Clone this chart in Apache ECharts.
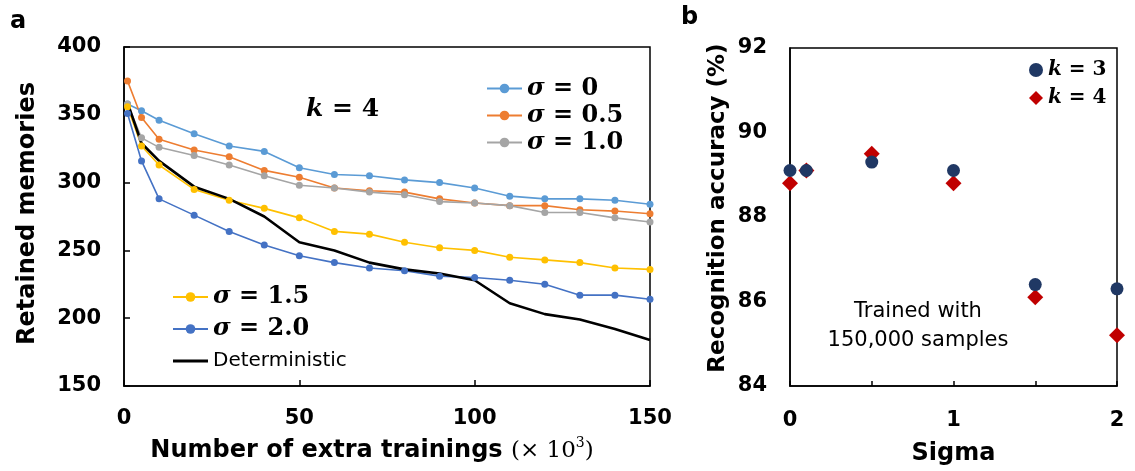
<!DOCTYPE html>
<html>
<head>
<meta charset="utf-8">
<script src="https://cdn.jsdelivr.net/npm/echarts@6/dist/echarts.min.js"></script>
<style>
html,body{margin:0;padding:0;background:#fff;}
#chart{width:1135px;height:471px;}
</style>
</head>
<body>
<div id="chart"></div>
<script>
// ---- Panel a data ----
const trainings = [1, 5, 10, 20, 30, 40, 50, 60, 70, 80, 90, 100, 110, 120, 130, 140, 150];
const sigma0   = [358, 353, 346, 336, 327, 323, 311, 306, 305, 302, 300, 296, 290, 288, 288, 287, 284];
const sigma05  = [375, 348, 332, 324, 319, 309, 304, 296, 294, 293, 288, 285, 283, 283, 280, 279, 277];
const sigma10  = [358, 333, 326, 320, 313, 305, 298, 296, 293, 291, 286, 285, 283, 278, 278, 274, 271];
const sigma15  = [356, 327, 313, 295, 287, 281, 274, 264, 262, 256, 252, 250, 245, 243, 241, 237, 236];
const sigma20  = [351, 316, 288, 276, 264, 254, 246, 241, 237, 235, 231, 230, 228, 225, 217, 217, 214];
const determ   = [359, 329, 316, 297, 288, 275, 256, 250, 241, 236, 233, 228, 211, 203, 199, 192, 184];
const seriesNamesA = ['σ = 0', 'σ = 0.5', 'σ = 1.0', 'σ = 1.5', 'σ = 2.0', 'Deterministic'];

// ---- Panel b data ----
const sigmaVals = [0, 0.1, 0.5, 1, 1.5, 2];
const accK3 = [89.1, 89.1, 89.3, 89.1, 86.4, 86.3];
const accK4 = [88.8, 89.1, 89.5, 88.8, 86.1, 85.2];
const seriesNamesB = ['k = 3', 'k = 4'];

const pair = (xs, ys) => xs.map((x, i) => [x, ys[i]]);

const SANS = 'DejaVu Sans';
const SERIF = 'DejaVu Serif';

function lineSeries(name, data, color, width, symbol) {
  return {
    name: name, type: 'line', xAxisIndex: 0, yAxisIndex: 0,
    data: pair(trainings, data),
    symbol: symbol ? 'circle' : 'none', symbolSize: 7, showSymbol: !!symbol,
    itemStyle: { color: color },
    lineStyle: { color: color, width: width },
    animation: false
  };
}

const sigmaRich = {
  s: { fontFamily: SERIF, fontStyle: 'italic', fontWeight: 'bold', fontSize: 24, color: '#000' },
  e: { fontFamily: SERIF, fontWeight: 'bold', fontSize: 24, color: '#000' },
  d: { fontFamily: SANS, fontSize: 20, color: '#000' }
};
function legendFmt(name) {
  if (name === 'Deterministic') return '{d|Deterministic}';
  if (name.startsWith('σ')) return '{s|σ}{e|' + name.slice(1) + '}';
  return '{s|k}{e|' + name.slice(1) + '}';
}

const chart = echarts.init(document.getElementById('chart'), null, { renderer: 'canvas' });
chart.setOption({
  animation: false,
  backgroundColor: '#fff',
  grid: [
    { left: 124, top: 47, width: 526, height: 339, show: true, borderColor: '#000', borderWidth: 1.5, backgroundColor: 'transparent' },
    { left: 790, top: 48, width: 327, height: 338, show: true, borderColor: '#000', borderWidth: 1.5, backgroundColor: 'transparent' }
  ],
  xAxis: [
    {
      gridIndex: 0, type: 'value', min: 0, max: 150, interval: 50,
      name: '{a|Number of extra trainings }{b|(× 10}{c|3}{b|)}',
      nameLocation: 'middle', nameGap: 50,
      nameTextStyle: {
        padding: [0, 30, 0, 0],
        rich: {
          a: { fontFamily: SANS, fontWeight: 'bold', fontSize: 24, color: '#000', lineHeight: 30 },
          b: { fontFamily: SERIF, fontSize: 23, color: '#000', lineHeight: 30 },
          c: { fontFamily: SERIF, fontSize: 14, color: '#000', lineHeight: 16, verticalAlign: 'top' }
        }
      },
      axisLine: { show: true, lineStyle: { color: '#000', width: 1.5 } },
      axisTick: { show: true, inside: true, length: 6, lineStyle: { color: '#000', width: 1.5 } },
      axisLabel: { fontFamily: SANS, fontWeight: 'bold', fontSize: 21, color: '#000', margin: 22 },
      splitLine: { show: false }
    },
    {
      gridIndex: 1, type: 'value', min: 0, max: 2, interval: 0.5,
      name: 'Sigma', nameLocation: 'middle', nameGap: 56,
      nameTextStyle: { fontFamily: SANS, fontWeight: 'bold', fontSize: 24, color: '#000' },
      axisLine: { show: true, lineStyle: { color: '#000', width: 1.5 } },
      axisTick: { show: true, inside: true, length: 5, lineStyle: { color: '#000', width: 1.5 } },
      axisLabel: {
        fontFamily: SANS, fontWeight: 'bold', fontSize: 21, color: '#000', margin: 24,
        formatter: v => (Math.abs(v - Math.round(v)) < 1e-9 ? String(Math.round(v)) : '')
      },
      splitLine: { show: false }
    }
  ],
  yAxis: [
    {
      gridIndex: 0, type: 'value', min: 150, max: 400, interval: 50,
      name: 'Retained memories', nameLocation: 'middle', nameGap: 84,
      nameTextStyle: { fontFamily: SANS, fontWeight: 'bold', fontSize: 24, color: '#000', padding: [0, 0, 0, 6] },
      axisLine: { show: true, lineStyle: { color: '#000', width: 1.5 } },
      axisTick: { show: true, inside: true, length: 6, lineStyle: { color: '#000', width: 1.5 } },
      axisLabel: { fontFamily: SANS, fontWeight: 'bold', fontSize: 21, color: '#000', margin: 23 },
      splitLine: { show: false }
    },
    {
      gridIndex: 1, type: 'value', min: 84, max: 92, interval: 2,
      name: 'Recognition accuracy (%)', nameLocation: 'middle', nameGap: 60,
      nameTextStyle: { fontFamily: SANS, fontWeight: 'bold', fontSize: 23, color: '#000', padding: [0, 0, 0, 18] },
      axisLine: { show: true, lineStyle: { color: '#000', width: 1.5 } },
      axisTick: { show: false },
      axisLabel: { fontFamily: SANS, fontWeight: 'bold', fontSize: 21, color: '#000', margin: 23 },
      splitLine: { show: false }
    }
  ],
  legend: [
    {
      data: seriesNamesA.slice(0, 3), orient: 'vertical', left: 486, top: 75, padding: 0,
      itemWidth: 35, itemHeight: 12, itemGap: 0,
      formatter: legendFmt,
      textStyle: { lineHeight: 27, rich: sigmaRich }
    },
    {
      data: [seriesNamesA[3], seriesNamesA[4],
             { name: seriesNamesA[5], icon: 'path://M0,0 L36,0 L36,3 L0,3 Z' }],
      orient: 'vertical', left: 172, top: 281, padding: 0,
      itemWidth: 35, itemHeight: 12, itemGap: 0,
      formatter: legendFmt,
      textStyle: { lineHeight: 32, rich: sigmaRich }
    },
    {
      data: seriesNamesB, orient: 'vertical', left: 1029, top: 56, padding: 0,
      itemWidth: 14, itemHeight: 14, itemGap: 0,
      formatter: legendFmt,
      textStyle: {
        lineHeight: 28,
        rich: {
          s: { fontFamily: SERIF, fontStyle: 'italic', fontWeight: 'bold', fontSize: 20, color: '#000' },
          e: { fontFamily: SERIF, fontWeight: 'bold', fontSize: 20, color: '#000' }
        }
      }
    }
  ],
  graphic: [
    { type: 'text', left: 10, top: 10, style: { text: 'a', fontFamily: SANS, fontWeight: 'bold', fontSize: 24, fill: '#000' } },
    { type: 'text', left: 681, top: 6, style: { text: 'b', fontFamily: SANS, fontWeight: 'bold', fontSize: 24, fill: '#000' } },
    {
      type: 'text', left: 306, top: 97,
      style: {
        text: '{s|k}{e| = 4}',
        rich: {
          s: { fontFamily: SERIF, fontStyle: 'italic', fontWeight: 'bold', fontSize: 25, fill: '#000' },
          e: { fontFamily: SERIF, fontWeight: 'bold', fontSize: 25, fill: '#000' }
        }
      }
    },
    {
      type: 'text', x: 918, y: 297,
      style: {
        text: 'Trained with\n150,000 samples', align: 'center', verticalAlign: 'top',
        fontFamily: SANS, fontSize: 21, lineHeight: 29, fill: '#000'
      }
    }
  ],
  series: [
    lineSeries(seriesNamesA[0], sigma0, '#5B9BD5', 1.6, true),
    lineSeries(seriesNamesA[1], sigma05, '#ED7D31', 1.6, true),
    lineSeries(seriesNamesA[2], sigma10, '#A5A5A5', 1.6, true),
    lineSeries(seriesNamesA[3], sigma15, '#FFC000', 1.6, true),
    lineSeries(seriesNamesA[4], sigma20, '#4472C4', 1.6, true),
    lineSeries(seriesNamesA[5], determ, '#000000', 2.6, false),
    {
      name: seriesNamesB[1], type: 'scatter', xAxisIndex: 1, yAxisIndex: 1,
      data: pair(sigmaVals, accK4), symbol: 'diamond', symbolSize: 16,
      itemStyle: { color: '#C00000', opacity: 1 }
    },
    {
      name: seriesNamesB[0], type: 'scatter', xAxisIndex: 1, yAxisIndex: 1,
      data: pair(sigmaVals, accK3), symbol: 'circle', symbolSize: 13,
      itemStyle: { color: '#203864', opacity: 1 }
    }
  ]
});
</script>
</body>
</html>
